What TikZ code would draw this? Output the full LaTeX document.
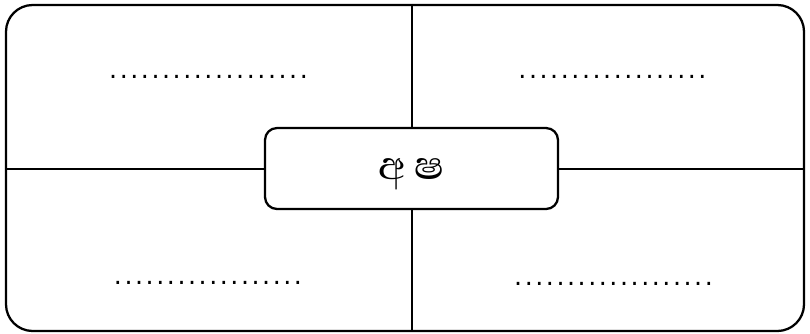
\documentclass[tikz,border=0pt]{standalone}
\usepackage{fontspec}
\newfontfamily\sinhalafont[Script=Sinhala]{Abhaya Libre}
\newfontfamily\dotfont[LetterSpace=10]{DejaVu Sans}
\usetikzlibrary{positioning}
\begin{document}
\begin{tikzpicture}[x=0.75pt,y=-0.75pt]
	\tikzstyle{blank}=[inner sep=0pt, anchor=base, font=\dotfont\fontsize{19}{19}\selectfont]
	\tikzstyle{keybox}=[draw=black, line width=1.7pt, rounded corners=9pt, fill=white, minimum width=219.75pt, minimum height=60.75pt]
	\useasboundingbox (0,0) rectangle (810,333);
	
	\node (frame) at (405,168) [draw=black, line width=1.7pt, rounded corners=20pt, minimum width=598.5pt, minimum height=244.5pt] {};
	\draw [line width=1.7pt] (frame.north -| 412,0) -- (frame.south -| 412,0);
	\draw [line width=1.7pt] (frame.west |- 0,169) -- (frame.east |- 0,169);
	
	\node (core) at (411.5,168.5) [keybox] {};
	\node (word) at ([xshift=-0.5pt, yshift=-4pt]core.center) [font=\sinhalafont\fontsize{38}{38}\selectfont] {අ\,ෂ};
	
	\node (tl) at (208.5,78.5) [blank] {...................};
	\node (tr) at (612.5,78.5) [blank] {..................};
	\node (bl) at (208,284.5) [blank] {..................};
	\node (br) at (613.5,285.5) [blank] {...................};
\end{tikzpicture}
\end{document}
